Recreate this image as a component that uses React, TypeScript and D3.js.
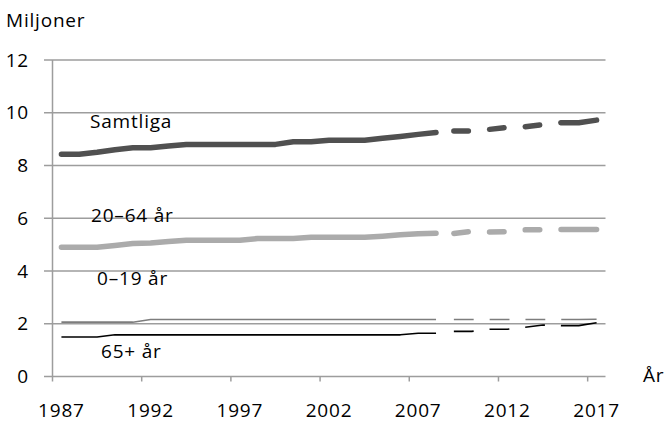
import * as d3 from "d3";
import { useEffect, useRef } from "react";

// historical years and projection years (categories)
const histYears = [1987, 1988, 1989, 1990, 1991, 1992, 1993, 1994, 1995, 1996, 1997, 1998, 1999, 2000, 2001, 2002, 2003, 2004, 2005, 2006, 2007, 2008];
const projYears = [2009, 2010, 2011, 2012, 2013, 2014, 2015, 2016, 2017];
const tickYears = [1987, 1992, 1997, 2002, 2007, 2012, 2017];
const yTicks = [0, 2, 4, 6, 8, 10, 12];

// miljoner
const samtliga = [8.43, 8.43, 8.5, 8.6, 8.67, 8.67, 8.74, 8.8, 8.8, 8.8, 8.8, 8.8, 8.8, 8.9, 8.9, 8.96, 8.96, 8.96, 9.03, 9.1, 9.18, 9.25];
const samtligaProj = [9.31, 9.31, 9.37, 9.45, 9.47, 9.55, 9.62, 9.62, 9.72];
const age2064 = [4.9, 4.9, 4.9, 4.97, 5.04, 5.06, 5.12, 5.17, 5.17, 5.17, 5.17, 5.23, 5.23, 5.23, 5.28, 5.28, 5.28, 5.28, 5.32, 5.37, 5.41, 5.43];
const age2064Proj = [5.42, 5.5, 5.48, 5.49, 5.56, 5.57, 5.57, 5.57, 5.57];
const age019 = [2.06, 2.06, 2.06, 2.06, 2.06, 2.16, 2.16, 2.16, 2.16, 2.16, 2.16, 2.16, 2.16, 2.16, 2.16, 2.16, 2.16, 2.16, 2.16, 2.16, 2.16, 2.16];
const age019Proj = [2.16, 2.16, 2.16, 2.16, 2.16, 2.16, 2.16, 2.16, 2.17];
const age65 = [1.5, 1.5, 1.5, 1.58, 1.58, 1.58, 1.58, 1.58, 1.58, 1.58, 1.58, 1.58, 1.58, 1.58, 1.58, 1.58, 1.58, 1.58, 1.58, 1.58, 1.64, 1.64];
const age65Proj = [1.71, 1.71, 1.79, 1.79, 1.87, 1.95, 1.93, 1.93, 2.04];

export default function App() {
  const svgRef = useRef<SVGSVGElement | null>(null);

  useEffect(() => {
    const width = 665;
    const height = 423;
    const font = "'Open Sans', sans-serif";

    const svg = d3.select(svgRef.current);
    svg.selectAll("*").remove();
    svg.attr("width", width).attr("height", height);

    const x = d3
      .scaleBand<number>()
      .domain([...histYears, ...projYears])
      .range([52.5, 605.5])
      .padding(0);
    const cx = (yr: number) => x(yr)! + x.bandwidth() / 2;

    const y = d3.scaleLinear().domain([0, 12]).range([376.5, 60]);

    // gridlines
    svg
      .append("g")
      .selectAll("line")
      .data(yTicks.filter((d) => d > 0))
      .join("line")
      .attr("x1", 44)
      .attr("x2", 605.5)
      .attr("y1", (d) => y(d))
      .attr("y2", (d) => y(d))
      .attr("stroke", "#9d9d9d")
      .attr("stroke-width", 1.5);

    // axes
    const ax = svg.append("g").attr("stroke", "#9d9d9d").attr("stroke-width", 1.5);
    ax.append("line").attr("x1", 52.5).attr("x2", 52.5).attr("y1", y(12)).attr("y2", y(0));
    ax.append("line").attr("x1", 44).attr("x2", 605.5).attr("y1", y(0)).attr("y2", y(0));
    ax.selectAll(".xt")
      .data(tickYears.slice(1))
      .join("line")
      .attr("x1", (d) => x(d)!)
      .attr("x2", (d) => x(d)!)
      .attr("y1", y(0))
      .attr("y2", y(0) + 5);
    ax.append("line").attr("x1", 52.5).attr("x2", 52.5).attr("y1", y(0)).attr("y2", y(0) + 5);

    const txt = (sel: any) =>
      sel
        .attr("font-family", font)
        .attr("font-size", 19)
        .attr("letter-spacing", 0.8)
        .attr("fill", "#000");

    svg
      .append("g")
      .selectAll("text")
      .data(yTicks)
      .join("text")
      .attr("x", 29)
      .attr("y", (d) => y(d))
      .attr("dy", "0.35em")
      .attr("text-anchor", "end")
      .text((d) => String(d))
      .call(txt);

    svg
      .append("g")
      .selectAll("text")
      .data(tickYears)
      .join("text")
      .attr("x", (d) => cx(d))
      .attr("y", 417)
      .attr("text-anchor", "middle")
      .text((d) => String(d))
      .call(txt);

    svg.append("text").attr("x", 6).attr("y", 27).text("Miljoner").call(txt);
    svg.append("text").attr("x", 643).attr("y", 382).text("År").call(txt);

    const line = d3
      .line<[number, number]>()
      .x((d) => cx(d[0]))
      .y((d) => y(d[1]));

    const series = [
      { hist: age019, proj: age019Proj, color: "#7d7d7d", w: 1.6, thick: false },
      { hist: age65, proj: age65Proj, color: "#000000", w: 1.6, thick: false },
      { hist: age2064, proj: age2064Proj, color: "#ababab", w: 5.5, thick: true },
      { hist: samtliga, proj: samtligaProj, color: "#505050", w: 5.5, thick: true },
    ];

    series.forEach((s) => {
      const g = svg.append("g").attr("fill", "none").attr("stroke", s.color).attr("stroke-width", s.w);
      g.append("path")
        .attr("d", line(histYears.map((yr, i) => [yr, s.hist[i]])))
        .attr("stroke-linecap", s.thick ? "round" : "butt")
        .attr("stroke-linejoin", "round");
      g.append("path")
        .attr("d", line(projYears.map((yr, i) => [yr, s.proj[i]])))
        .attr("stroke-linecap", s.thick ? "round" : "butt")
        .attr("stroke-linejoin", "round")
        .attr("stroke-dasharray", s.thick ? "14.5 21.3 14.5 21.3 14.5 21.3 80" : "19.8 16 19.8 16 19.8 16 80");
    });

    // series labels
    svg.append("text").attr("x", 90).attr("y", 128).text("Samtliga").call(txt);
    svg.append("text").attr("x", 91).attr("y", 222).text("20–64 år").call(txt);
    svg.append("text").attr("x", 97).attr("y", 285).text("0–19 år").call(txt);
    svg.append("text").attr("x", 101).attr("y", 358).text("65+ år").call(txt);
  }, []);

  return (
    <div style={{ position: "absolute", left: 0, top: 0 }}>
      <svg ref={svgRef} style={{ display: "block" }}></svg>
    </div>
  );
}
